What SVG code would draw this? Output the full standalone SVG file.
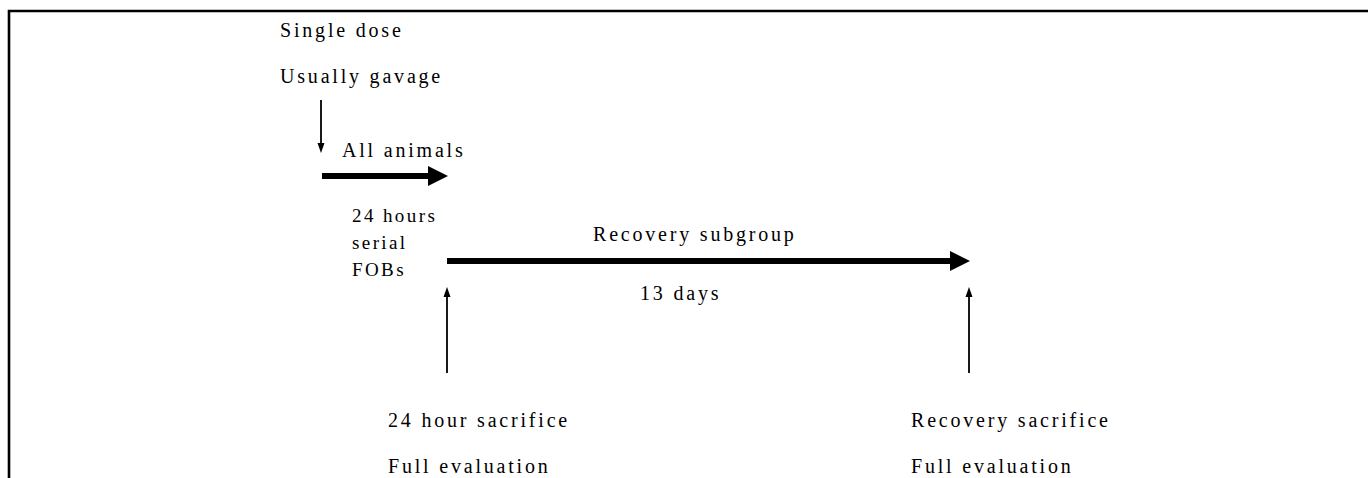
<svg xmlns="http://www.w3.org/2000/svg" width="1368" height="478" viewBox="0 0 1368 478">
<style>
text{font-family:"Liberation Serif","Times New Roman",serif;fill:#000;font-size:20px;letter-spacing:2.8px}
.sm{font-size:19px;letter-spacing:2.4px}
.thin{stroke:#000;stroke-width:1.8;fill:none}
.thick{stroke:#000;stroke-width:6;fill:none}
.border{stroke:#000;stroke-width:2.6;fill:none}
</style>
<defs>
<marker id="hThin" markerUnits="userSpaceOnUse" markerWidth="12" markerHeight="10" refX="0" refY="4" orient="auto" viewBox="0 0 12 8" overflow="visible">
<path d="M0,0.5 L10,4 L0,7.5 z" fill="#000"/>
</marker>
<marker id="hThick" markerUnits="userSpaceOnUse" markerWidth="22" markerHeight="22" refX="0" refY="11" orient="auto" viewBox="0 0 22 22" overflow="visible">
<path d="M0,1 L20,11 L0,21 z" fill="#000"/>
</marker>
</defs>
<rect width="1368" height="478" fill="#fff"/>
<g id="frame">
<path class="border" d="M9,478 V11 H1368"/>
</g>
<g id="connectors">
<line class="thin" x1="321" y1="100" x2="321" y2="143" marker-end="url(#hThin)"/>
<line class="thick" x1="322" y1="176" x2="428" y2="176" marker-end="url(#hThick)"/>
<line class="thick" x1="447" y1="261" x2="950" y2="261" marker-end="url(#hThick)"/>
<line class="thin" x1="447" y1="373" x2="447" y2="297" marker-end="url(#hThin)"/>
<line class="thin" x1="969" y1="373" x2="969" y2="297" marker-end="url(#hThin)"/>
</g>
<g id="dose">
<text x="280" y="37">Single dose</text>
<text x="280" y="83">Usually gavage</text>
</g>
<g id="all-animals">
<text x="342" y="157">All animals</text>
</g>
<g id="fobs">
<text class="sm" x="352" y="222">24 hours</text>
<text class="sm" x="352" y="249">serial</text>
<text class="sm" x="352" y="276">FOBs</text>
</g>
<g id="recovery-subgroup">
<text x="593" y="241">Recovery subgroup</text>
<text x="640" y="300">13 days</text>
</g>
<g id="sacrifice-24h">
<text x="388" y="427">24 hour sacrifice</text>
<text x="388" y="473">Full evaluation</text>
</g>
<g id="sacrifice-recovery">
<text x="911" y="427">Recovery sacrifice</text>
<text x="911" y="473">Full evaluation</text>
</g>
</svg>
